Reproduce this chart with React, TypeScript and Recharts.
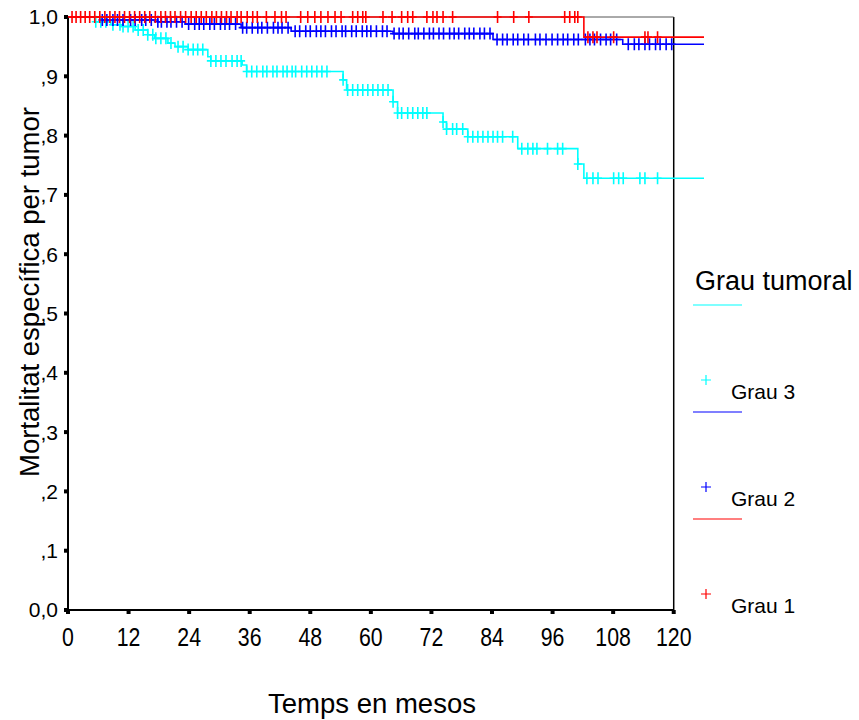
import { ComposedChart, Line, Scatter, XAxis, YAxis, ReferenceLine, Legend } from 'recharts';

const FONT = '"Liberation Sans", Arial, sans-serif';

const COLORS = { grau3: '#00FFFF', grau2: '#0000FF', grau1: '#FF0000' };

const monthTicks = [0, 12, 24, 36, 48, 60, 72, 84, 96, 108, 120];
const survTicks = [0, 0.1, 0.2, 0.3, 0.4, 0.5, 0.6, 0.7, 0.8, 0.9, 1.0];

// Kaplan-Meier steps: time (months) and survival after each event
const grau3Times = [0, 5.3, 8.5, 10.5, 13.3, 15.8, 17.2, 19.8, 21.2, 23.8, 27.7, 28.3, 34.5, 35.4, 54.5, 55.2, 64.4, 65.3, 74.3, 75.0, 79.2, 89.1, 101.0, 102.2, 126];
const grau3Surv = [1.0, 0.992, 0.987, 0.984, 0.978, 0.970, 0.964, 0.956, 0.950, 0.945, 0.933, 0.926, 0.919, 0.908, 0.894, 0.877, 0.857, 0.838, 0.823, 0.811, 0.798, 0.778, 0.752, 0.728, 0.728];

const grau2Times = [0, 6.6, 17.8, 23.2, 34.3, 44.2, 64.4, 84.2, 109.9, 126];
const grau2Surv = [1.0, 0.995, 0.992, 0.988, 0.982, 0.976, 0.972, 0.962, 0.954, 0.954];

const grau1Times = [0, 102.2, 126];
const grau1Surv = [1.0, 0.966, 0.966];

// censored cases
const grau3Censored = [5.5, 6.5, 7.5, 8.9, 10.3, 10.9, 11.9, 12.9, 13.9, 14.9, 15.8, 16.8, 17.4, 18.4, 19.4, 20.4, 21.8, 22.8, 23.8, 24.8, 25.7, 26.7, 28.3, 29.3, 30.3, 31.3, 32.5, 33.5, 34.3, 35.4, 36.4, 37.4, 38.6, 39.4, 40.6, 41.4, 42.6, 43.4, 44.4, 45.1, 46.3, 47.3, 48.3, 49.3, 50.3, 51.3, 54.5, 55.4, 56.4, 57.4, 58.4, 59.4, 60.4, 61.4, 62.4, 63.4, 64.4, 65.3, 66.1, 67.3, 68.3, 69.3, 70.3, 71.1, 74.3, 75.0, 76.2, 77.0, 78.2, 79.2, 80.2, 81.2, 82.2, 83.2, 84.2, 85.1, 86.1, 88.1, 89.9, 91.1, 92.1, 92.9, 95.0, 97.0, 98.0, 101.0, 102.8, 104.0, 105.0, 108.1, 109.1, 110.0, 113.3, 114.3, 116.8];
const grau2Censored = [6.8, 7.7, 8.9, 9.8, 10.9, 12.4, 13.3, 14.6, 15.4, 16.5, 17.8, 18.5, 19.6, 20.4, 21.5, 22.6, 23.9, 25.1, 26.0, 26.9, 28.1, 29.0, 30.2, 31.1, 32.0, 33.2, 34.6, 35.4, 36.5, 37.6, 38.4, 39.5, 40.7, 41.6, 42.4, 43.6, 45.0, 45.9, 47.1, 48.0, 49.2, 50.1, 51.0, 52.2, 53.1, 54.3, 55.0, 56.2, 57.1, 58.3, 59.2, 60.0, 61.1, 62.3, 63.2, 64.6, 65.6, 66.4, 67.5, 68.7, 69.4, 70.5, 71.6, 72.4, 73.5, 74.4, 75.6, 76.5, 77.4, 78.6, 79.5, 80.4, 81.6, 82.5, 83.6, 85.0, 86.1, 87.0, 88.2, 89.1, 90.3, 91.2, 92.6, 93.5, 94.7, 95.9, 97.0, 98.1, 99.0, 100.2, 101.1, 102.5, 103.4, 104.3, 105.5, 106.6, 107.5, 108.7, 111.0, 112.2, 113.1, 114.3, 115.2, 116.4, 117.3, 118.5, 119.6];
const grau1Censored = [0.8, 1.6, 2.5, 3.4, 4.3, 5.3, 6.3, 7.3, 8.3, 9.3, 10.2, 11.2, 12.2, 13.2, 14.2, 15.2, 16.2, 17.3, 18.4, 19.3, 20.3, 21.2, 22.3, 23.3, 24.4, 25.4, 26.4, 27.4, 28.5, 29.4, 30.4, 31.4, 32.3, 33.5, 34.3, 35.5, 36.6, 37.5, 39.3, 41.0, 42.3, 43.2, 46.1, 47.5, 48.9, 50.1, 51.5, 52.9, 54.1, 56.4, 57.4, 58.4, 59.0, 62.4, 64.2, 66.1, 67.3, 68.3, 71.1, 72.3, 73.1, 74.3, 76.2, 85.1, 88.3, 91.3, 98.4, 99.4, 100.4, 101.0, 103.0, 104.0, 104.8, 108.1, 114.3, 114.9, 116.8];

const legendItems = [
  { name: 'Grau 3', color: COLORS.grau3 },
  { name: 'Grau 2', color: COLORS.grau2 },
  { name: 'Grau 1', color: COLORS.grau1 },
];

const toSteps = (times: number[], surv: number[]) => times.map((t, i) => ({ t, s: surv[i] }));

// survival shown by the curve at time t
const survAt = (times: number[], surv: number[], t: number) => {
  let s = surv[0];
  times.forEach((tt, i) => {
    if (tt <= t) s = surv[i];
  });
  return s;
};

const toMarks = (censored: number[], times: number[], surv: number[]) =>
  censored.map((t) => ({ t, s: survAt(times, surv, t) }));

const plusShape = (color: string) => (props: any) => {
  const { cx, cy } = props;
  return (
    <path
      d={`M${cx - 4},${cy}H${cx + 4}M${cx},${cy - 6}V${cy + 6}`}
      stroke={color}
      strokeWidth={1.6}
      fill="none"
    />
  );
};

const MonthTick = (props: any) => {
  const { x, y, payload } = props;
  return (
    <text
      transform={`translate(${x},${y + 30}) scale(0.82,1)`}
      textAnchor="middle"
      fontSize={26}
      fontFamily={FONT}
      fill="#000"
    >
      {payload.value}
    </text>
  );
};

const fmtSurv = (v: number) => {
  if (v === 1) return '1,0';
  if (v === 0) return '0,0';
  return ',' + Math.round(v * 10);
};

const GradeLegend = () => (
  <svg width={175} height={360} style={{ fontFamily: FONT }}>
    <text x={15} y={30} fontSize={27} fill="#000">Grau tumoral</text>
    {legendItems.map((item, i) => (
      <g key={item.name}>
        <line x1={13} x2={62} y1={45 + i * 107} y2={45 + i * 107} stroke={item.color} strokeWidth={1.2} />
        <path
          d={`M${21},${120 + i * 107}H${31}M${26},${115 + i * 107}V${125 + i * 107}`}
          stroke={item.color}
          strokeWidth={1.2}
        />
        <text x={51} y={139 + i * 107} fontSize={21} fill="#000">{item.name}</text>
      </g>
    ))}
  </svg>
);

export default function App() {
  return (
    <div style={{ position: 'absolute', left: 0, top: 0, width: 859, height: 720, background: '#fff' }}>
      <ComposedChart width={859} height={720} margin={{ top: 17, right: 155, bottom: 70, left: 8 }}>
        <XAxis
          dataKey="t"
          type="number"
          domain={[0, 126]}
          ticks={monthTicks}
          allowDataOverflow
          axisLine={false}
          tickLine={{ stroke: '#000', strokeWidth: 4 }}
          tickSize={4}
          height={40}
          tick={<MonthTick />}
          label={{
            content: () => (
              <text x={372} y={713} textAnchor="middle" fontSize={27.5} fontFamily={FONT} fill="#000">
                Temps en mesos
              </text>
            ),
          }}
        />
        <YAxis
          dataKey="s"
          type="number"
          domain={[0, 1]}
          ticks={survTicks}
          width={60}
          axisLine={{ stroke: '#000', strokeWidth: 2 }}
          tickLine={{ stroke: '#000', strokeWidth: 4 }}
          tickSize={4}
          tickMargin={6}
          tickFormatter={fmtSurv}
          tick={{ fontSize: 21, fontFamily: FONT, fill: '#000' }}
          label={{
            content: () => (
              <text
                transform="translate(39,292) rotate(-90)"
                textAnchor="middle"
                fontSize={27.5}
                fontFamily={FONT}
                fill="#000"
              >
                Mortalitat específica per tumor
              </text>
            ),
          }}
        />
        <ReferenceLine segment={[{ x: 0, y: 0 }, { x: 120, y: 0 }]} stroke="#000" strokeWidth={2} />
        <ReferenceLine segment={[{ x: 120, y: 0 }, { x: 120, y: 1 }]} stroke="#000" strokeWidth={1.5} />
        <ReferenceLine segment={[{ x: 0, y: 1 }, { x: 120, y: 1 }]} stroke="#555" strokeWidth={1} />
        <Line
          data={toSteps(grau3Times, grau3Surv)}
          dataKey="s"
          type="stepAfter"
          stroke={COLORS.grau3}
          strokeWidth={1.6}
          dot={false}
          isAnimationActive={false}
        />
        <Line
          data={toSteps(grau2Times, grau2Surv)}
          dataKey="s"
          type="stepAfter"
          stroke={COLORS.grau2}
          strokeWidth={1.6}
          dot={false}
          isAnimationActive={false}
        />
        <Line
          data={toSteps(grau1Times, grau1Surv)}
          dataKey="s"
          type="stepAfter"
          stroke={COLORS.grau1}
          strokeWidth={1.6}
          dot={false}
          isAnimationActive={false}
        />
        <Scatter
          data={toMarks(grau3Censored, grau3Times, grau3Surv)}
          dataKey="s"
          shape={plusShape(COLORS.grau3)}
          isAnimationActive={false}
        />
        <Scatter
          data={toMarks(grau2Censored, grau2Times, grau2Surv)}
          dataKey="s"
          shape={plusShape(COLORS.grau2)}
          isAnimationActive={false}
        />
        <Scatter
          data={toMarks(grau1Censored, grau1Times, grau1Surv)}
          dataKey="s"
          shape={plusShape(COLORS.grau1)}
          isAnimationActive={false}
        />
        <Legend
          layout="horizontal"
          align="center"
          verticalAlign="middle"
          content={() => <GradeLegend />}
          wrapperStyle={{ left: 680, top: 260, width: 175, height: 360 }}
        />
      </ComposedChart>
    </div>
  );
}
